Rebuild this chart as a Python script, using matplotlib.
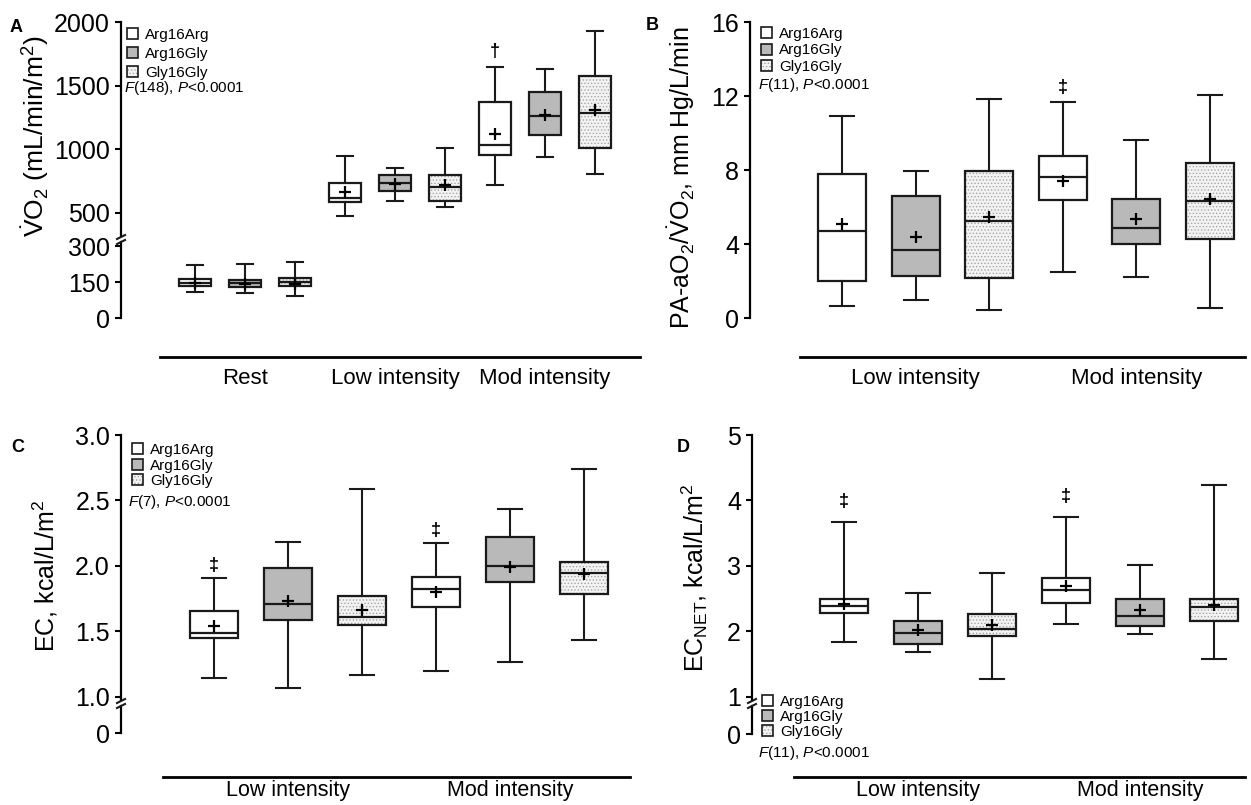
import matplotlib
matplotlib.use('Agg')
import matplotlib.pyplot as plt
from matplotlib.patches import Patch
from matplotlib.lines import Line2D

plt.rcParams['font.family'] = ['Liberation Sans', 'DejaVu Sans']
plt.rcParams['mathtext.fontset'] = 'custom'
plt.rcParams['mathtext.rm'] = 'Liberation Sans'
plt.rcParams['mathtext.it'] = 'Liberation Sans:italic'
plt.rcParams['mathtext.bf'] = 'Liberation Sans:bold'
plt.rcParams['hatch.linewidth'] = 0.6

W, H = 1251, 805
INK = '#1a1a1a'

genotypes = ['Arg16Arg', 'Arg16Gly', 'Gly16Gly']
fills = ['white', '#b9b9b9', '#f3f3f3']

# Panel A: VO2, groups Rest / Low / Mod, 3 genotypes each
a_groups = ['Rest', 'Low intensity', 'Mod intensity']
a_lo = [108, 104, 90, 480, 594, 544, 716, 941, 805]
a_q1 = [133, 128, 135, 588, 675, 596, 957, 1114, 1012]
a_med = [147, 145, 149, 614, 735, 700, 1030, 1263, 1284]
a_q3 = [163, 158, 167, 737, 802, 795, 1370, 1449, 1574]
a_hi = [222, 225, 233, 944, 857, 1009, 1645, 1634, 1929]
a_mean = [145, 140, 143, 665, 730, 716, 1119, 1273, 1310]

# Panel B: PA-aO2/VO2
b_groups = ['Low intensity', 'Mod intensity']
b_lo = [0.65, 0.97, 0.43, 2.49, 2.22, 0.52]
b_q1 = [2.0, 2.27, 2.14, 6.36, 3.98, 4.25]
b_med = [4.7, 3.68, 5.24, 7.6, 4.85, 6.32]
b_q3 = [7.78, 6.6, 7.96, 8.74, 6.43, 8.4]
b_hi = [10.9, 7.95, 11.84, 11.66, 9.62, 12.05]
b_mean = [5.08, 4.4, 5.48, 7.42, 5.35, 6.43]

# Panel C: EC
c_lo = [1.143, 1.066, 1.168, 1.198, 1.267, 1.435]
c_q1 = [1.447, 1.588, 1.547, 1.689, 1.88, 1.786]
c_med = [1.491, 1.708, 1.611, 1.822, 1.999, 1.949]
c_q3 = [1.659, 1.985, 1.773, 1.918, 2.219, 2.028]
c_hi = [1.906, 2.181, 2.585, 2.173, 2.435, 2.74]
c_mean = [1.542, 1.735, 1.664, 1.80, 1.99, 1.94]

# Panel D: EC_NET
d_lo = [1.832, 1.693, 1.27, 2.116, 1.968, 1.586]
d_q1 = [2.28, 1.81, 1.933, 2.433, 2.09, 2.167]
d_med = [2.391, 1.983, 2.035, 2.636, 2.243, 2.38]
d_q3 = [2.498, 2.167, 2.26, 2.82, 2.498, 2.498]
d_hi = [3.671, 2.595, 2.90, 3.747, 3.018, 4.24]
d_mean = [2.42, 2.03, 2.10, 2.687, 2.33, 2.40]

stat_text = {'A': r'$\it{F}$(148), $\it{P}$<0.0001',
             'B': r'$\it{F}$(11), $\it{P}$<0.0001',
             'C': r'$\it{F}$(7), $\it{P}$<0.0001',
             'D': r'$\it{F}$(11), $\it{P}$<0.0001'}

fig = plt.figure(figsize=(W / 100, H / 100), dpi=100)


def rect(left, top, right, bottom):
    return [left / W, 1 - bottom / H, (right - left) / W, (bottom - top) / H]


def fx(x):
    return x / W


def fy(y):
    return 1 - y / H


def draw_boxes(ax, lo, q1, med, q3, hi, mean, width, idx):
    for i in idx:
        st = [dict(whislo=lo[i], q1=q1[i], med=med[i], q3=q3[i], whishi=hi[i], mean=mean[i],
                   fliers=[])]
        g = i % 3
        pos = [i + 1]
        if g == 2:
            ax.bxp(st, positions=pos, widths=width, patch_artist=True, showcaps=False,
                   showfliers=False, manage_ticks=False,
                   boxprops=dict(facecolor=fills[2], edgecolor='#a5a5a5', hatch='.....', linewidth=0),
                   whiskerprops=dict(linewidth=0), medianprops=dict(linewidth=0))
        ax.bxp(st, positions=pos, widths=width, patch_artist=True, showmeans=True,
               showfliers=False, capwidths=width * 0.5, manage_ticks=False,
               boxprops=dict(facecolor=fills[g] if g < 2 else 'none', edgecolor=INK, linewidth=1.6),
               medianprops=dict(color=INK, linewidth=1.6),
               whiskerprops=dict(color=INK, linewidth=1.5),
               capprops=dict(color=INK, linewidth=1.5),
               meanprops=dict(marker='+', markeredgecolor='black', markersize=8, markeredgewidth=1.6))


def style_left(ax, ticks, labels=None):
    for s in ['top', 'right', 'bottom']:
        ax.spines[s].set_visible(False)
    ax.spines['left'].set_linewidth(1.6)
    ax.set_yticks(ticks)
    if labels is not None:
        ax.set_yticklabels(labels)
    ax.tick_params(axis='y', labelsize=18, length=4, width=1.5, pad=4, direction='out')
    ax.tick_params(axis='x', bottom=False, labelbottom=False)
    ax.patch.set_visible(False)


def group_line(ax, out_px, x0, x1, centers, names, size=16, pad=8):
    ax.spines['bottom'].set_visible(True)
    ax.spines['bottom'].set_position(('outward', out_px * 0.72))
    ax.spines['bottom'].set_bounds(x0, x1)
    ax.spines['bottom'].set_linewidth(2)
    ax.set_xticks(centers)
    ax.set_xticklabels(names)
    ax.tick_params(axis='x', bottom=True, labelbottom=True, length=0, labelsize=size, pad=pad)


def brk(x, y):
    # slanted strokes at the y-axis break (pixel coords, y from top)
    for dy in (0, 5):
        fig.add_artist(Line2D([fx(x - 4), fx(x + 4)], [fy(y + dy + 2), fy(y + dy - 2)],
                              color=INK, lw=1.5))


def legend(ax, x, y, spacing):
    hs = [Patch(facecolor=fills[0], edgecolor=INK, linewidth=1.2),
          Patch(facecolor=fills[1], edgecolor=INK, linewidth=1.2),
          (Patch(facecolor=fills[2], edgecolor='#a5a5a5', hatch='.....', linewidth=0),
           Patch(facecolor='none', edgecolor=INK, linewidth=1.2))]
    ax.legend(hs, genotypes, loc='upper left', bbox_to_anchor=(fx(x), fy(y)),
              bbox_transform=fig.transFigure, frameon=False, borderpad=0, borderaxespad=0,
              handlelength=0.75, handleheight=0.75, handletextpad=0.45, labelspacing=spacing,
              fontsize=11)


def marks(ax, hi, idx, sym, off):
    for i in idx:
        ax.annotate(sym, xy=(i + 1, hi[i]), xytext=(0, off), textcoords='offset points',
                    ha='center', va='center', fontsize=13, fontweight='bold')


# ---------- Panel A ----------
axA = fig.add_axes(rect(121, 22, 640, 236))
axA2 = fig.add_axes(rect(121, 242, 640, 318), sharex=axA)
draw_boxes(axA, a_lo, a_q1, a_med, a_q3, a_hi, a_mean, 0.64, range(3, 9))
draw_boxes(axA2, a_lo, a_q1, a_med, a_q3, a_hi, a_mean, 0.64, range(0, 3))
axA.set_ylim(319, 2000)
axA2.set_ylim(0, 316.7)
axA.set_xlim(-0.48, 9.9)
style_left(axA, [500, 1000, 1500, 2000])
style_left(axA2, [0, 150, 300])
group_line(axA2, 39, 0.3, 9.9, [2, 5, 8], a_groups)
marks(axA, a_hi, [6], '†', 11)
legend(axA, 127, 28, 0.33)
brk(121, 237)

# ---------- Panel B ----------
axB = fig.add_axes(rect(750, 22, 1245, 318))
draw_boxes(axB, b_lo, b_q1, b_med, b_q3, b_hi, b_mean, 0.65, range(6))
axB.set_ylim(0, 16)
axB.set_xlim(-0.25, 6.476)
style_left(axB, [0, 4, 8, 12, 16])
group_line(axB, 39, 0.43, 6.476, [2, 5], b_groups)
marks(axB, b_hi, [3], '‡', 11)
legend(axB, 761, 27, 0.16)

# ---------- Panel C ----------
axC = fig.add_axes(rect(121, 435, 630, 700))
axC2 = fig.add_axes(rect(121, 706, 630, 733), sharex=axC)
draw_boxes(axC, c_lo, c_q1, c_med, c_q3, c_hi, c_mean, 0.65, range(6))
axC.set_ylim(0.977, 3.0)
axC2.set_ylim(0, 0.2)
axC.set_xlim(-0.257, 6.62)
style_left(axC, [1.0, 1.5, 2.0, 2.5, 3.0], ['1.0', '1.5', '2.0', '2.5', '3.0'])
style_left(axC2, [0])
group_line(axC2, 44, 0.31, 6.62, [2, 5], b_groups, size=15.5, pad=2.5)
marks(axC, c_hi, [0, 3], '‡', 9.5)
legend(axC, 132, 443, 0.1)
brk(121, 701)

# ---------- Panel D ----------
axD = fig.add_axes(rect(752, 435, 1245, 700))
axD2 = fig.add_axes(rect(752, 706, 1245, 734), sharex=axD)
draw_boxes(axD, d_lo, d_q1, d_med, d_q3, d_hi, d_mean, 0.65, range(6))
axD.set_ylim(0.954, 5)
axD2.set_ylim(0, 0.2)
axD.set_xlim(-0.243, 6.42)
style_left(axD, [1, 2, 3, 4, 5])
style_left(axD2, [0])
group_line(axD2, 43, 0.324, 6.42, [2, 5], b_groups, size=15.5, pad=2.5)
marks(axD, d_hi, [0, 3], '‡', 14.5)
legend(axD, 762, 695, 0.05)
brk(752, 701)

# stats text
fig.text(fx(124), fy(88), stat_text['A'], fontsize=11, va='center')
fig.text(fx(758), fy(85), stat_text['B'], fontsize=11, va='center')
fig.text(fx(128), fy(502), stat_text['C'], fontsize=11, va='center')
fig.text(fx(758), fy(753), stat_text['D'], fontsize=11, va='center')

# y labels
fig.text(fx(35), fy(136), r'$\dot{\mathrm{V}}\mathrm{O}_2$ (mL/min/m$^2$)', fontsize=19,
         rotation=90, ha='center', va='center')
fig.text(fx(681), fy(178), r'PA-aO$_2$/$\dot{\mathrm{V}}$O$_2$, mm Hg/L/min', fontsize=18,
         rotation=90, ha='center', va='center')
fig.text(fx(45), fy(576), r'EC, kcal/L/m$^2$', fontsize=18, rotation=90, ha='center', va='center')
fig.text(fx(695), fy(578), r'EC$_{\mathrm{NET}}$, kcal/L/m$^2$', fontsize=18, rotation=90,
         ha='center', va='center')

# panel letters
for letter, x, y in [('A', 16, 27), ('B', 652, 25), ('C', 18, 447), ('D', 683, 447)]:
    fig.text(fx(x), fy(y), letter, fontsize=13, fontweight='bold', ha='center', va='center')

fig.savefig('out.png', dpi=100, facecolor='white')
